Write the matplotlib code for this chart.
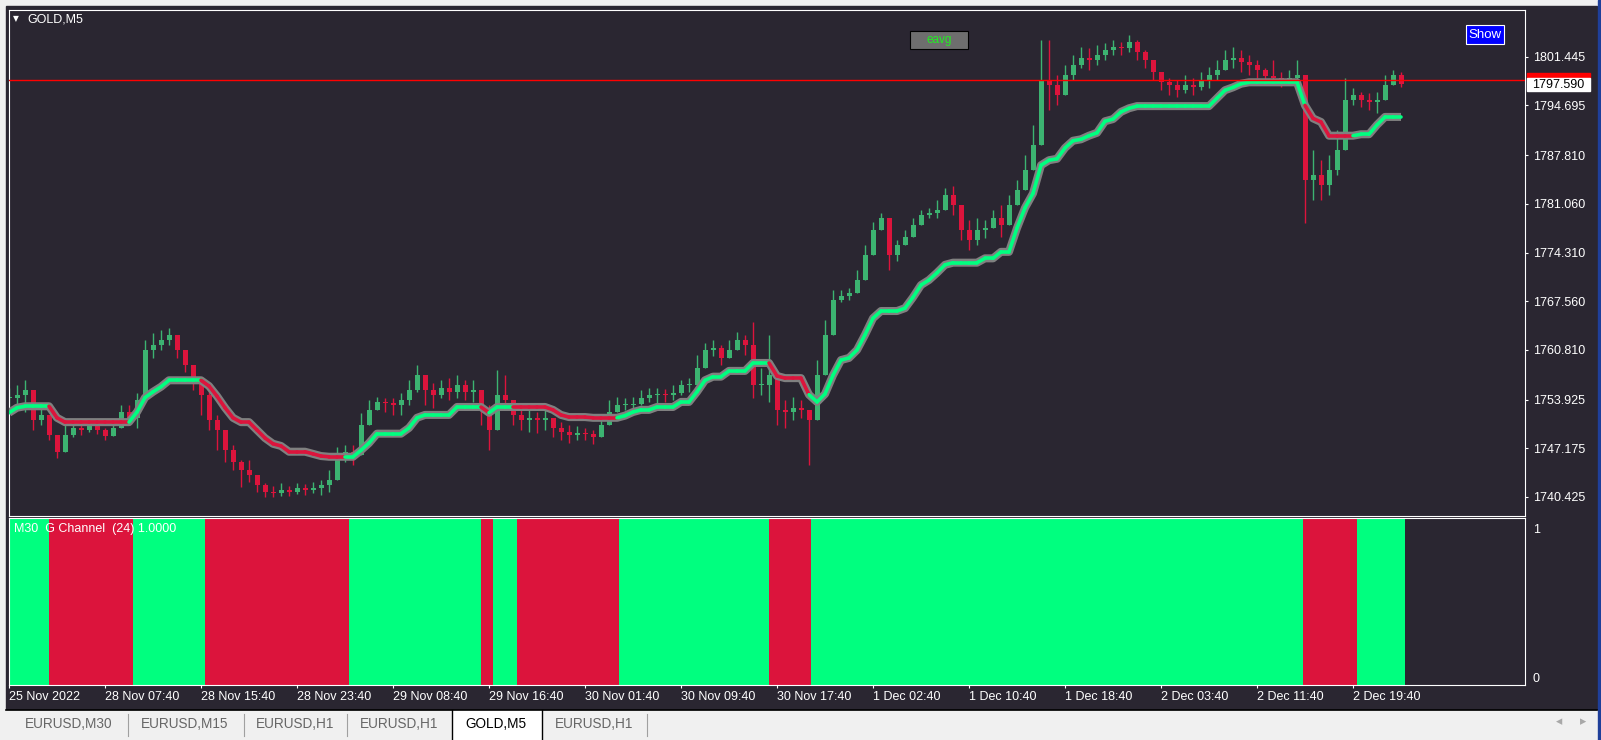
import numpy as np
import matplotlib
matplotlib.use('Agg')
import matplotlib.pyplot as plt
from matplotlib.collections import LineCollection
from matplotlib.patches import Rectangle
from matplotlib.transforms import blended_transform_factory

plt.rcParams['font.family'] = ['Liberation Sans', 'DejaVu Sans']

# GOLD M5, one sample every 8 bars
close = [
    1754.2, 1754.6, 1755.3, 1751.1, 1751.8, 1749.0, 1746.7, 1749.0, 1750.0, 1749.7,
    1750.3, 1749.7, 1748.9, 1750.0, 1752.2, 1751.4, 1753.9, 1760.8, 1761.5, 1762.2,
    1762.9, 1760.8, 1758.7, 1756.6, 1754.6, 1751.1, 1749.7, 1746.9, 1745.3, 1744.2,
    1743.5, 1742.1, 1741.1, 1741.0, 1741.4, 1741.1, 1741.7, 1741.4, 1741.7, 1742.1,
    1742.8, 1745.8, 1746.7, 1746.3, 1750.4, 1752.5, 1753.6, 1753.5, 1753.2, 1753.9,
    1755.3, 1757.3, 1755.3, 1754.6, 1755.5, 1755.0, 1755.9, 1755.0, 1755.3, 1752.5,
    1749.7, 1754.6, 1753.9, 1751.8, 1751.1, 1751.4, 1751.1, 1751.4, 1750.0, 1749.4,
    1749.0, 1749.3, 1749.2, 1748.7, 1750.4, 1752.2, 1753.2, 1753.2, 1753.3, 1754.2,
    1754.6, 1754.6, 1754.5, 1754.8, 1755.9, 1755.9, 1758.3, 1760.8, 1761.1, 1759.7,
    1760.8, 1762.2, 1761.5, 1755.9, 1755.9, 1757.3, 1752.5, 1752.2, 1752.8, 1752.5,
    1751.1, 1757.3, 1762.9, 1767.7, 1768.3, 1768.7, 1770.5, 1774.0, 1777.4, 1779.1,
    1774.0, 1775.4, 1776.5, 1778.1, 1779.5, 1779.8, 1780.2, 1782.3, 1780.9, 1777.4,
    1776.0, 1777.4, 1777.7, 1779.1, 1778.1, 1780.9, 1783.0, 1785.7, 1789.2, 1798.2,
    1797.5, 1796.1, 1798.9, 1800.3, 1801.3, 1801.0, 1801.7, 1802.4, 1802.8, 1802.7,
    1803.5, 1802.1, 1801.0, 1799.3, 1797.9, 1797.5, 1796.8, 1797.5, 1797.2, 1798.2,
    1798.9, 1799.6, 1801.0, 1801.3, 1800.7, 1800.3, 1799.6, 1798.8, 1798.5, 1798.2,
    1798.5, 1798.9, 1784.4, 1785.0, 1783.7, 1785.7, 1788.5, 1795.4, 1796.1, 1795.4,
    1795.2, 1795.4, 1797.5, 1798.9, 1797.6,
]
high = [
    1755.5, 1755.9, 1756.6, 1753.9, 1753.2, 1751.1, 1748.3, 1750.4, 1750.8, 1750.7,
    1751.1, 1750.5, 1750.0, 1751.1, 1753.2, 1753.2, 1754.8, 1762.2, 1763.2, 1763.6,
    1763.9, 1762.9, 1760.1, 1758.0, 1756.2, 1755.9, 1751.8, 1749.7, 1747.6, 1745.6,
    1745.6, 1743.5, 1742.4, 1742.0, 1742.4, 1742.0, 1742.4, 1742.2, 1742.5, 1742.8,
    1744.2, 1747.4, 1747.6, 1747.6, 1752.1, 1753.9, 1754.3, 1754.2, 1754.2, 1754.8,
    1756.6, 1758.7, 1757.3, 1756.2, 1756.6, 1756.9, 1757.3, 1756.6, 1756.6, 1754.6,
    1753.2, 1758.0, 1757.3, 1753.2, 1752.5, 1752.5, 1752.2, 1752.8, 1751.4, 1750.8,
    1750.4, 1750.2, 1750.0, 1749.7, 1751.4, 1753.9, 1754.3, 1754.2, 1754.3, 1755.3,
    1755.5, 1755.5, 1755.4, 1755.9, 1756.6, 1756.9, 1760.1, 1761.8, 1762.2, 1761.5,
    1762.2, 1763.3, 1762.9, 1764.7, 1758.3, 1762.9, 1754.2, 1753.9, 1754.3, 1753.9,
    1752.2, 1759.4, 1765.0, 1769.1, 1769.1, 1769.4, 1771.9, 1775.4, 1778.5, 1779.8,
    1778.1, 1776.0, 1777.4, 1779.1, 1780.2, 1780.5, 1781.6, 1783.2, 1783.5, 1780.2,
    1778.8, 1779.1, 1778.8, 1780.2, 1780.9, 1782.3, 1784.4, 1787.8, 1792.0, 1803.8,
    1803.8, 1798.9, 1800.3, 1801.7, 1802.8, 1802.7, 1803.1, 1803.3, 1803.8, 1803.5,
    1804.5, 1803.8, 1802.4, 1800.7, 1799.3, 1798.5, 1798.2, 1798.9, 1798.5, 1799.3,
    1800.0, 1801.0, 1802.4, 1802.8, 1802.4, 1801.7, 1801.0, 1799.9, 1801.0, 1799.3,
    1799.6, 1801.0, 1798.2, 1788.5, 1787.1, 1787.8, 1791.3, 1798.5, 1797.1, 1796.5,
    1796.4, 1796.5, 1798.9, 1799.6, 1799.3,
]
low = [
    1752.8, 1753.2, 1752.2, 1749.7, 1750.4, 1748.3, 1745.8, 1747.6, 1748.7, 1749.0,
    1749.4, 1749.2, 1748.3, 1748.9, 1751.1, 1750.4, 1750.0, 1754.6, 1759.7, 1760.8,
    1761.5, 1759.7, 1757.8, 1755.3, 1751.8, 1749.7, 1746.9, 1745.3, 1744.2, 1741.8,
    1742.5, 1741.1, 1740.4, 1740.4, 1740.6, 1740.6, 1740.9, 1740.7, 1741.0, 1740.7,
    1741.1, 1744.2, 1745.3, 1744.9, 1748.3, 1750.4, 1752.5, 1752.2, 1751.8, 1751.8,
    1753.2, 1755.0, 1753.2, 1752.8, 1754.2, 1753.9, 1754.2, 1753.9, 1753.6, 1750.4,
    1746.9, 1751.1, 1752.5, 1750.4, 1749.7, 1749.4, 1749.3, 1749.7, 1748.7, 1748.3,
    1747.9, 1748.3, 1748.3, 1747.8, 1749.4, 1751.1, 1752.2, 1752.5, 1752.5, 1753.2,
    1753.6, 1753.5, 1753.6, 1753.9, 1754.6, 1755.0, 1755.9, 1759.1, 1760.0, 1758.7,
    1759.7, 1760.8, 1760.1, 1754.2, 1754.6, 1753.6, 1750.4, 1750.0, 1751.1, 1751.4,
    1744.9, 1753.9, 1759.4, 1765.0, 1767.5, 1767.7, 1769.1, 1772.2, 1775.4, 1777.4,
    1771.9, 1773.2, 1775.4, 1777.2, 1778.5, 1779.1, 1779.1, 1780.9, 1779.5, 1776.0,
    1774.7, 1775.4, 1776.3, 1778.1, 1776.5, 1779.5, 1781.9, 1783.7, 1787.1, 1792.7,
    1794.1, 1794.7, 1796.8, 1798.2, 1799.9, 1799.6, 1800.3, 1801.0, 1801.7, 1801.7,
    1802.1, 1801.0, 1799.9, 1798.2, 1796.8, 1796.1, 1795.9, 1796.4, 1796.1, 1796.8,
    1797.1, 1798.2, 1799.6, 1799.9, 1799.3, 1798.9, 1798.5, 1797.7, 1797.7, 1797.3,
    1797.5, 1797.7, 1778.4, 1781.6, 1781.6, 1782.3, 1785.0, 1789.9, 1794.7, 1794.5,
    1794.1, 1793.6, 1795.7, 1797.9, 1797.3,
]
# G Channel (24) middle line at the same samples
channel = (
    [1752.1, 1752.8] + [1753.0] * 4 + [1751.4] + [1750.8] * 9
    + [1752.2, 1754.2, 1755.0, 1755.7] + [1756.6] * 5
    + [1755.8, 1754.4, 1752.8, 1751.4] + [1750.8] * 2
    + [1749.7, 1748.6, 1747.8, 1747.5] + [1746.7] * 3 + [1746.4, 1746.1] + [1746.0] * 4
    + [1746.9, 1747.9] + [1749.2] * 4 + [1750.0, 1751.4] + [1751.8] * 4
    + [1752.9] * 4 + [1752.1] + [1752.9] * 7 + [1752.5, 1751.8] + [1751.5] * 3
    + [1751.4] * 4 + [1751.7, 1752.2] + [1752.5] * 2 + [1752.9] * 3 + [1753.6] * 2
    + [1755.0, 1756.6] + [1757.1] * 2 + [1757.9] * 3 + [1759.0] * 3
    + [1757.2] + [1756.9] * 3 + [1754.6, 1753.6, 1754.7, 1757.3, 1759.4, 1759.7,
                                1760.8, 1762.9, 1765.2] + [1766.2] * 3
    + [1766.6, 1768.1, 1769.8, 1770.5, 1771.5, 1772.6] + [1772.9] * 4
    + [1773.5] * 2 + [1774.4] * 2 + [1777.7, 1780.5, 1782.5, 1786.4, 1787.1, 1787.3,
                                     1788.8, 1789.8, 1790.0, 1790.5, 1790.9, 1792.5,
                                     1792.8, 1793.8, 1794.3] + [1794.6] * 10
    + [1795.7, 1796.8, 1797.2, 1797.7] + [1797.9] * 7
    + [1794.7, 1792.9, 1792.4] + [1790.5] * 4 + [1790.7] * 2 + [1792.0] + [1793.1] * 3
)
# trend histogram (M30 G Channel): bar edges and state, 1 = up, 0 = down
trend_edges = [0, 40, 124, 196, 340, 472, 484, 508, 610, 760, 802, 1294, 1348, 1396]
trend_state = [1, 0, 1, 0, 1, 0, 1, 0, 1, 0, 1, 0, 1]

price_ticks = [1801.445, 1794.695, 1787.810, 1781.060, 1774.310,
               1767.560, 1760.810, 1753.925, 1747.175, 1740.425]
time_labels = ['25 Nov 2022', '28 Nov 07:40', '28 Nov 15:40', '28 Nov 23:40',
               '29 Nov 08:40', '29 Nov 16:40', '30 Nov 01:40', '30 Nov 09:40',
               '30 Nov 17:40', '1 Dec 02:40', '1 Dec 10:40', '1 Dec 18:40',
               '2 Dec 03:40', '2 Dec 11:40', '2 Dec 19:40']
tabs = ['EURUSD,M30', 'EURUSD,M15', 'EURUSD,H1', 'EURUSD,H1', 'GOLD,M5', 'EURUSD,H1']
active_tab = 4
bid = 1797.590
ask = 1798.15

assert len(close) == len(high) == len(low) == len(channel)

W, H = 1601, 740
BG = '#2a2631'
PANEL = '#f0f0f0'
BULL, BEAR = '#3cb371', '#dc143c'
CH_UP, CH_DN = '#00ff7f', '#dc143c'


def fx(px):
    return px / W


def fy(py):
    return 1 - py / H


def rect(x0, y0, x1, y1):
    return [fx(x0), fy(y1), (x1 - x0) / W, (y1 - y0) / H]


fig = plt.figure(figsize=(W / 100, H / 100), dpi=100, facecolor=PANEL)

# chart window background (behind the axes)
fig.patches.append(Rectangle((fx(6), fy(709)), (1597 - 6) / W, (709 - 6) / H,
                             transform=fig.transFigure, color=BG, zorder=-5))
fig.patches.append(Rectangle((fx(1598), 0), 3 / W, 1, transform=fig.transFigure,
                             color='#1f3f9a', zorder=-5))

# ---------------- main price window ----------------
ax = fig.add_axes(rect(9, 10, 1525, 516))
ax.set_facecolor(BG)
ax.set_xlim(0, 1516)
ax.set_ylim(1737.79, 1807.92)

c = np.array(close)
o = np.r_[c[0], c[:-1]]
hi = np.maximum(np.array(high), np.maximum(o, c))
lo = np.minimum(np.array(low), np.minimum(o, c))
xs = np.arange(len(c)) * 8
cols = np.where(c >= o, BULL, BEAR)
ax.vlines(xs, lo, hi, colors=cols, lw=1.0, zorder=2)
body = np.maximum(np.abs(c - o), 0.15)
ax.bar(xs, body, bottom=np.minimum(o, c), width=5, color=cols, lw=0, zorder=2)

# channel line: gray halo + coloured core
ch = np.array(channel)
ax.plot(xs, ch, color='#808080', lw=5.8, solid_joinstyle='round',
        solid_capstyle='butt', zorder=3)
pts = np.column_stack([xs, ch])
segs = np.stack([pts[:-1], pts[1:]], axis=1)
mid = (xs[:-1] + xs[1:]) / 2
idx = np.clip(np.searchsorted(trend_edges, mid, side='right') - 1, 0, len(trend_state) - 1)
seg_cols = [CH_UP if trend_state[k] else CH_DN for k in idx]
ax.add_collection(LineCollection(segs, colors=seg_cols, lw=2.6, zorder=4,
                                 capstyle='round', joinstyle='round'))

ax.axhline(ask, color='#ff0000', lw=1.0, zorder=5)

for s in ax.spines.values():
    s.set_color('white')
    s.set_linewidth(0.8)
ax.set_xticks([])
ax.yaxis.tick_right()
ax.set_yticks(price_ticks)
ax.set_yticklabels([f'{v:.3f}' for v in price_ticks])
ax.tick_params(axis='y', colors='white', labelcolor='white', length=2.2,
               width=0.8, pad=3.5, labelsize=9)

tr = blended_transform_factory(ax.transAxes, ax.transData)
ax.add_patch(Rectangle((1.0013, bid + 0.9), 0.0415, 0.65, transform=tr,
                       color='#ff0000', clip_on=False, zorder=6))
ax.add_patch(Rectangle((1.0013, bid - 0.95), 0.0415, 1.85, transform=tr,
                       color='white', clip_on=False, zorder=7))
ax.text(1.0048, bid, f'{bid:.3f}', transform=tr, color='black', fontsize=9,
        va='center', ha='left', zorder=8, clip_on=False)

# ---------------- indicator window ----------------
ax2 = fig.add_axes(rect(9, 518, 1525, 685))
ax2.set_facecolor(BG)
ax2.set_xlim(0, 1516)
ylo, yhi = -0.047, 1.067
ax2.set_ylim(ylo, yhi)
ax2.bar(trend_edges[:-1], yhi - ylo, bottom=ylo, width=np.diff(trend_edges),
        align='edge', color=[CH_UP if s else CH_DN for s in trend_state], lw=0)
for s in ax2.spines.values():
    s.set_color('white')
    s.set_linewidth(0.8)
ax2.yaxis.tick_right()
ax2.set_yticks([0, 1])
ax2.set_yticklabels(['0', '1'])
ax2.tick_params(axis='y', colors='white', length=0, pad=5.5, labelsize=9)
ax2.set_xticks(np.arange(len(time_labels)) * 96)
ax2.set_xticklabels(time_labels, ha='left')
ax2.tick_params(axis='x', colors='white', length=2.2, width=0.8, pad=2, labelsize=9)
ax2.text(0.003, 0.935, 'M30  G Channel  (24) 1.0000', transform=ax2.transAxes,
         color='white', fontsize=9, va='center', ha='left')

# ---------------- chart decorations ----------------
fig.text(fx(16), fy(18.5), '\u25bc', color='white', fontsize=5.5, ha='center',
         va='center', family='DejaVu Sans')
fig.text(fx(27), fy(19), 'GOLD,M5', color='white', fontsize=9, va='center')

fig.patches.append(Rectangle((fx(910), fy(49)), 58 / W, 18 / H, transform=fig.transFigure,
                             fc='#6e6e6e', ec='black', lw=0.8, zorder=5))
fig.text(fx(939), fy(40), 'eavg', color='#22ee22', fontsize=8.5, ha='center',
         va='center', zorder=6)
fig.patches.append(Rectangle((fx(1466), fy(44)), 38 / W, 19 / H, transform=fig.transFigure,
                             fc='#0000ff', ec='white', lw=0.8, zorder=5))
fig.text(fx(1485), fy(34.5), 'Show', color='white', fontsize=9.5, ha='center',
         va='center', zorder=6)

# ---------------- tab bar ----------------
fig.add_artist(plt.Line2D([fx(6), fx(1597)], [fy(709.5), fy(709.5)], color='black', lw=1.2))
tab_seps = [127.5, 244, 347, 451.5, 542, 647]
tab_centers = [69, 185, 295, 399, 496, 594]
a0, a1 = tab_seps[active_tab - 1], tab_seps[active_tab]
fig.patches.append(Rectangle((fx(a0), 0), (a1 - a0) / W, (740 - 710) / H,
                             transform=fig.transFigure, fc='white', ec='none'))
for xp in (a0, a1):
    fig.add_artist(plt.Line2D([fx(xp), fx(xp)], [fy(710), fy(740)], color='black', lw=1.0))
for k, xp in enumerate(tab_seps):
    if k in (active_tab - 1, active_tab):
        continue
    fig.add_artist(plt.Line2D([fx(xp), fx(xp)], [fy(714), fy(736)], color='#a0a0a0', lw=0.8))
for k, (name, xc) in enumerate(zip(tabs, tab_centers)):
    fig.text(fx(xc), fy(724.5), name, ha='center', va='center', fontsize=9.8,
             color='black' if k == active_tab else '#666666')
fig.text(fx(1559), fy(722), '\u25c2', color='#a8a8a8', fontsize=9, ha='center',
         va='center', family='DejaVu Sans')
fig.text(fx(1583), fy(722), '\u25b8', color='#a8a8a8', fontsize=9, ha='center',
         va='center', family='DejaVu Sans')

fig.savefig('out.png', dpi=100, facecolor=PANEL)
